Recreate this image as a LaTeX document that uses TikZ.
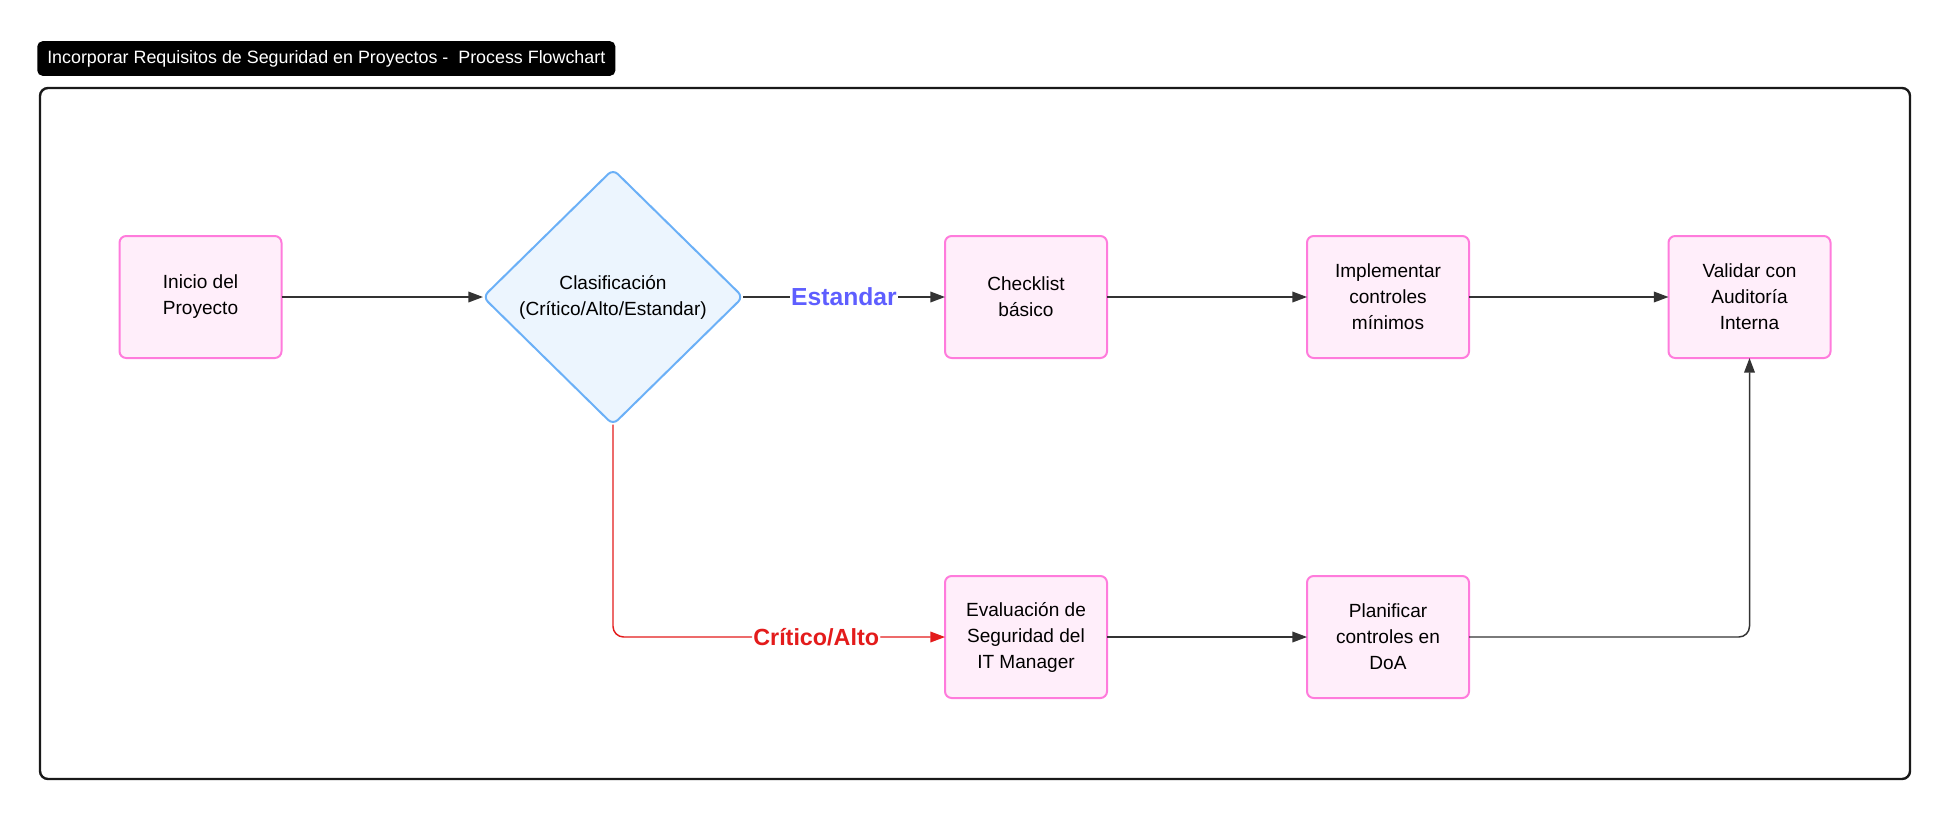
\documentclass[tikz,border=0pt]{standalone}
\usepackage{fontspec}
\setmainfont{Liberation Sans}
\usetikzlibrary{shapes.geometric,arrows.meta}
\definecolor{boxfill}{HTML}{FFEEFA}
\definecolor{boxline}{HTML}{FF7BDC}
\definecolor{decfill}{HTML}{ECF5FE}
\definecolor{decline}{HTML}{6BB0F7}
\definecolor{edgecol}{HTML}{333333}
\definecolor{redline}{HTML}{E31B1B}
\definecolor{bluelabel}{HTML}{5E5EFF}
\begin{document}
\begin{tikzpicture}[x=0.75pt,y=-0.75pt,
  proc/.style={draw=boxline, fill=boxfill, line width=1.5pt, rounded corners=5pt,
    minimum width=121.5pt, minimum height=91.5pt, align=center, inner sep=0pt, outer sep=0pt,
    font=\fontsize{14.3}{19.5}\selectfont},
  decision/.style={diamond, draw=decline, fill=decfill, line width=1.5pt, rounded corners=5pt,
    minimum width=195pt, minimum height=191.5pt, inner sep=0pt, outer sep=0pt},
  dectxt/.style={align=center, font=\fontsize{14.3}{19.5}\selectfont},
  arr/.style={draw=edgecol, line width=1.1pt, -{Triangle[length=11pt,width=8pt]}},
  redarr/.style={draw=redline, line width=1.1pt, -{Triangle[length=11pt,width=8pt]}},
  lbl/.style={fill=white, inner sep=1pt, font=\fontsize{17.5}{20}\selectfont\bfseries},
  titlebox/.style={fill=black, text=white, rounded corners=4pt, inner xsep=7.5pt,
    minimum height=26pt, font=\fontsize{13.4}{16}\selectfont},
  frame/.style={draw=black!90, line width=1.8pt, rounded corners=6pt}
]
\useasboundingbox (0,0) rectangle (1951,819);
\node[titlebox, anchor=west] (title) at (37,58.5) {Incorporar Requisitos de Seguridad en Proyectos -\ \ Process Flowchart};
\draw[frame] (40,88) rectangle (1910,779);

\node[proc] (inicio) at (200.5,297) {Inicio del\\Proyecto};
\node[decision] (dec) at (613,297) {};
\node[dectxt] (dectext) at (dec) {Clasificación\\(Crítico/Alto/Estandar)};
\node[proc] (check) at (1026,297) {Checklist\\básico};
\node[proc] (impl) at (1388,297) {Implementar\\controles\\mínimos};
\node[proc] (valid) at (1749.5,297) {Validar con\\Auditoría\\Interna};
\node[proc] (eval) at (1026,637) {Evaluación de\\Seguridad del\\IT Manager};
\node[proc] (plan) at (1388,637) {Planificar\\controles en\\DoA};

\draw[arr] (inicio.east) -- (dec.west);
\draw[arr] (dec.east) -- node[lbl, text=bluelabel, font=\fontsize{18.5}{20}\selectfont\bfseries] (lblstd) {Estandar} (check.west);
\draw[arr] (check.east) -- (impl.west);
\draw[arr] (impl.east) -- (valid.west);
\draw[arr] (eval.east) -- (plan.west);
\draw[arr, rounded corners=8pt] (plan.east) -| (valid.south);
\draw[redarr, rounded corners=8pt] (dec.south) |- node[lbl, text=redline, pos=0.806] (lblcrit) {Crítico/Alto} (eval.west);
\end{tikzpicture}
\end{document}
